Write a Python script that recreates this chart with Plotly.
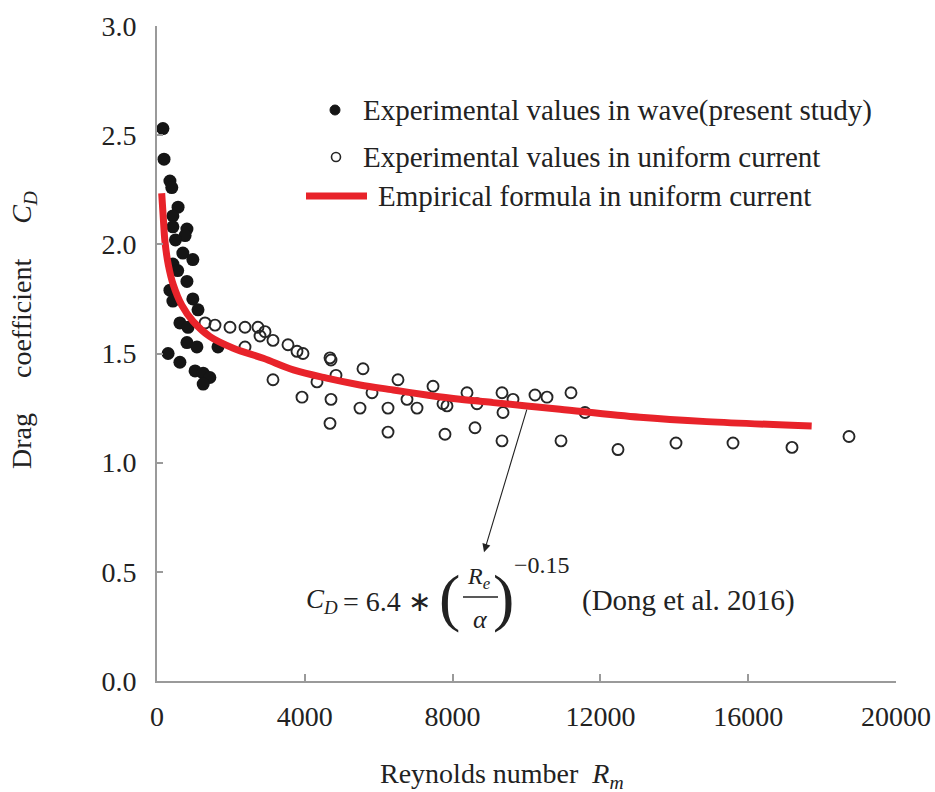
import plotly.graph_objects as go

# ---- data ----
wave_re = [160, 190, 350, 400, 570, 430, 430, 810, 760, 700, 970, 430, 810, 350, 430,
           970, 1110, 620, 840, 810, 1080, 300, 620, 1030, 1250, 1430, 1250, 1650, 500, 560]
wave_cd = [2.53, 2.39, 2.29, 2.26, 2.17, 2.13, 2.08, 2.07, 2.04, 1.96, 1.93, 1.91, 1.83, 1.79, 1.74,
           1.75, 1.70, 1.64, 1.62, 1.55, 1.53, 1.50, 1.46, 1.42, 1.41, 1.39, 1.36, 1.53, 2.02, 1.88]

cur_re = [1300, 1570, 1976, 2382, 2733, 2923, 2788, 3139, 3545, 3789, 3951, 2382, 4682, 4709,
          3139, 4330, 4844, 5575, 3924, 4709, 4682, 5494, 5819, 6252, 6252, 6522, 6766, 7037,
          7470, 7740, 7848, 7794, 8390, 8660, 8606, 9337, 9635, 9364, 9337, 10230, 10555,
          11204, 11583, 10934, 12476, 14046, 15589, 17185, 18728]
cur_cd = [1.64, 1.63, 1.62, 1.62, 1.62, 1.60, 1.58, 1.56, 1.54, 1.51, 1.50, 1.53, 1.48, 1.47,
          1.38, 1.37, 1.40, 1.43, 1.30, 1.29, 1.18, 1.25, 1.32, 1.25, 1.14, 1.38, 1.29, 1.25,
          1.35, 1.27, 1.26, 1.13, 1.32, 1.27, 1.16, 1.32, 1.29, 1.23, 1.10, 1.31, 1.30,
          1.32, 1.23, 1.10, 1.06, 1.09, 1.09, 1.07, 1.12]

fit_re = [127, 171, 216, 306, 442, 668, 983, 1434, 2066, 2877, 3690, 4592, 5494, 6395,
          7298, 8200, 9102, 10005, 10907, 13072, 14876, 17718]
fit_cd = [2.234, 2.119, 2.012, 1.906, 1.814, 1.722, 1.646, 1.577, 1.524, 1.478, 1.425, 1.387,
          1.356, 1.333, 1.310, 1.290, 1.275, 1.260, 1.245, 1.208, 1.188, 1.168]

x_ticks = [0, 4000, 8000, 12000, 16000, 20000]
y_ticks = [0.0, 0.5, 1.0, 1.5, 2.0, 2.5, 3.0]

legend_labels = ["Experimental values in wave(present study)",
                 "Experimental values in uniform current",
                 "Empirical formula in uniform current"]

# ---- layout geometry (pixels) ----
W, H = 935, 792
L, R, T, B = 157, 896, 26, 681
FONT = "Liberation Serif"
TXT = "#222222"
NB = "\u00a0"


def px(x):
    return (x - L) / (R - L)


def py(y):
    return (B - y) / (B - T)


fig = go.Figure()
fig.add_trace(go.Scatter(x=wave_re, y=wave_cd, mode="markers",
                         marker=dict(symbol="circle", size=13, color="#151515"),
                         showlegend=False))
fig.add_trace(go.Scatter(x=cur_re, y=cur_cd, mode="markers",
                         marker=dict(symbol="circle-open", size=11, color="#262626",
                                     line=dict(width=1.9)),
                         showlegend=False))
fig.add_trace(go.Scatter(x=fit_re, y=fit_cd, mode="lines",
                         line=dict(color="#e8232a", width=7, shape="spline"),
                         showlegend=False))

annotations = []
shapes = []


def txt(x, y, s, size=28, anchor="left", family=FONT, angle=0):
    annotations.append(dict(x=px(x), y=py(y), xref="paper", yref="paper", text=s,
                            showarrow=False, xanchor=anchor, yanchor="middle",
                            textangle=angle,
                            font=dict(family=family, size=size, color=TXT)))


# custom legend
leg_y = [110, 157, 196]
txt(361, leg_y[0], legend_labels[0], size=29)
txt(361, leg_y[1], legend_labels[1], size=29)
txt(376, leg_y[2], legend_labels[2], size=29)
shapes.append(dict(type="circle", xref="paper", yref="paper",
                   x0=px(330), x1=px(340), y0=py(115), y1=py(105),
                   fillcolor="#151515", line=dict(color="#151515", width=1)))
shapes.append(dict(type="circle", xref="paper", yref="paper",
                   x0=px(331.5), x1=px(340.5), y0=py(161.5), y1=py(152.5),
                   fillcolor="white", line=dict(color="#262626", width=1.6)))
shapes.append(dict(type="line", xref="paper", yref="paper",
                   x0=px(306), x1=px(367), y0=py(leg_y[2]), y1=py(leg_y[2]),
                   line=dict(color="#e8232a", width=7)))

# arrow from curve to formula
annotations.append(dict(x=8850, y=0.59, ax=10020, ay=1.25, xref="x", yref="y",
                        axref="x", ayref="y", text="", showarrow=True,
                        arrowhead=2, arrowsize=1.5, arrowwidth=1.1, arrowcolor="#222"))

# formula
txt(304, 601, "<i>C</i><sub><i>D</i></sub>", size=27)
txt(341, 601, "= 6.4 ∗", size=28)
txt(449, 597, "(", size=64, anchor="center")
txt(479, 578, "<i>R</i><sub><i>e</i></sub>", size=24, anchor="center")
shapes.append(dict(type="line", xref="paper", yref="paper", x0=px(463), x1=px(498),
                   y0=py(597), y1=py(597), line=dict(color="#222", width=1.5)))
txt(480, 619, "<i>α</i>", size=26, anchor="center")
txt(503, 597, ")", size=64, anchor="center")
txt(512, 565, "−0.15", size=24)
txt(580, 600, "(Dong et al. 2016)", size=29)

# axis titles
txt(502, 775, "Reynolds number" + NB * 2 + "<i>R</i><sub><i>m</i></sub>", size=28, anchor="center")
txt(23, 330, "Drag" + NB * 5 + "coefficient" + NB * 5 + "<i>C</i><sub><i>D</i></sub>",
    size=28, anchor="center", angle=-90)

fig.update_layout(
    width=W, height=H,
    margin=dict(l=L, r=W - R, t=T, b=H - B, autoexpand=False),
    paper_bgcolor="white", plot_bgcolor="white",
    showlegend=False,
    annotations=annotations, shapes=shapes,
    xaxis=dict(range=[0, 20000], tickvals=x_ticks, ticktext=[str(v) for v in x_ticks],
               automargin=False,
               showgrid=False, zeroline=False, showline=True, linecolor="#9a9a9a", linewidth=2,
               ticks="inside", ticklen=7, tickcolor="#9a9a9a", tickwidth=1.5,
               ticklabelstandoff=9,
               tickfont=dict(family=FONT, size=28, color=TXT)),
    yaxis=dict(range=[0, 3.0], tickvals=y_ticks, ticktext=[f"{v:.1f}" for v in y_ticks],
               automargin=False,
               showgrid=False, zeroline=False, showline=True, linecolor="#9a9a9a", linewidth=2,
               ticks="inside", ticklen=6, tickcolor="#9a9a9a", tickwidth=1.5,
               ticklabelstandoff=13,
               tickfont=dict(family=FONT, size=28, color=TXT)),
)

fig.write_html("out.html")
